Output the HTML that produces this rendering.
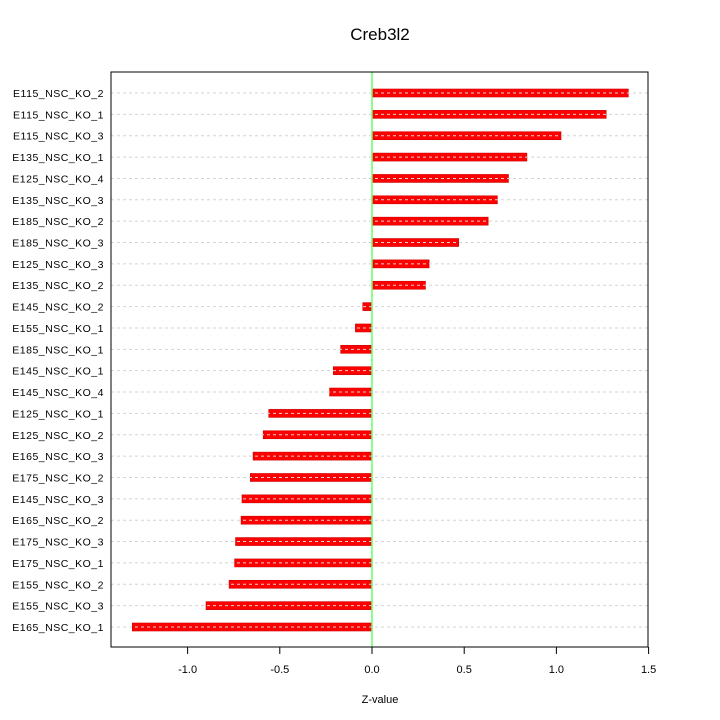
<!DOCTYPE html>
<html><head><meta charset="utf-8"><style>body{margin:0;background:#fff}svg{display:block;font-family:"Liberation Sans",sans-serif}</style></head>
<body>
<svg id="c" width="720" height="720"></svg>
<script>
const categories=["E115_NSC_KO_2","E115_NSC_KO_1","E115_NSC_KO_3","E135_NSC_KO_1","E125_NSC_KO_4","E135_NSC_KO_3","E185_NSC_KO_2","E185_NSC_KO_3","E125_NSC_KO_3","E135_NSC_KO_2","E145_NSC_KO_2","E155_NSC_KO_1","E185_NSC_KO_1","E145_NSC_KO_1","E145_NSC_KO_4","E125_NSC_KO_1","E125_NSC_KO_2","E165_NSC_KO_3","E175_NSC_KO_2","E145_NSC_KO_3","E165_NSC_KO_2","E175_NSC_KO_3","E175_NSC_KO_1","E155_NSC_KO_2","E155_NSC_KO_3","E165_NSC_KO_1"];
const values=[1.39,1.27,1.025,0.84,0.74,0.68,0.63,0.47,0.31,0.29,-0.05,-0.09,-0.17,-0.21,-0.23,-0.56,-0.59,-0.645,-0.66,-0.705,-0.71,-0.74,-0.745,-0.775,-0.90,-1.30];
const ticks=[-1.0,-0.5,0.0,0.5,1.0,1.5];
const tickLabels=["-1.0","-0.5","0.0","0.5","1.0","1.5"];
const svg=document.getElementById('c');const NS="http://www.w3.org/2000/svg";
function mk(t,a,txt){const e=document.createElementNS(NS,t);for(const k in a)e.setAttribute(k,a[k]);if(txt!==undefined)e.textContent=txt;svg.appendChild(e);return e;}
const X=v=>372+v*184.4;
const Y=i=>93+i*(627-93)/(categories.length-1);
let e=mk('text',{x:380,y:40,'text-anchor':'middle','font-size':17},'Creb3l2');


categories.forEach((c,i)=>{
 const v=values[i];
 const b=mk('rect',{x:Math.min(X(0),X(v)),y:Y(i)-4,width:Math.abs(X(v)-X(0)),height:8,fill:'#ff0000',stroke:'#cc0000','stroke-width':0.6});
 
 
 const g=mk('line',{x1:111,x2:648,y1:Y(i),y2:Y(i),stroke:'#d3d3d3','stroke-dasharray':'3,3','stroke-width':1});
 
 
 const l=mk('text',{x:104,y:Y(i)+4,'text-anchor':'end','font-size':10.5,'letter-spacing':'0.5'},c);
 
 
});
const z=mk('line',{x1:X(0),x2:X(0),y1:72,y2:647,stroke:'#66ff66','stroke-width':1.5});


const f=mk('rect',{x:111,y:72,width:537,height:575,fill:'none',stroke:'#000','stroke-width':1});


const ax=mk('line',{x1:X(ticks[0]),x2:X(ticks[ticks.length-1]),y1:647,y2:647,stroke:'#000'});


ticks.forEach((t,i)=>{
 const tk=mk('line',{x1:X(t),x2:X(t),y1:647,y2:654,stroke:'#000'});
 
 
 const tl=mk('text',{x:X(t),y:673,'text-anchor':'middle','font-size':11},tickLabels[i]);
 
 
});
const xt=mk('text',{x:380,y:703,'text-anchor':'middle','font-size':11},'Z-value');


</script>
</body></html>
